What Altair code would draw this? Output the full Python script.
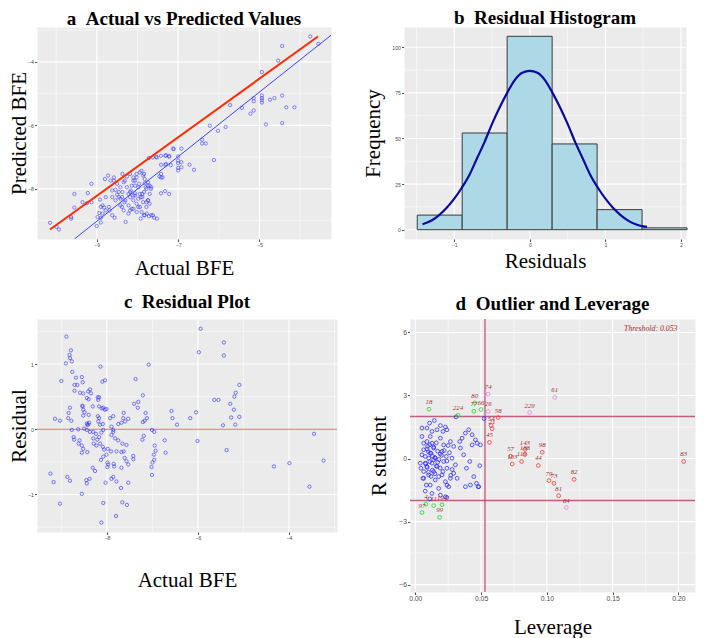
import altair as alt
import pandas as pd

# ---------------- Panel a: Actual vs Predicted ----------------
a_actual = [-3.75, -3.55, -4.44, -4.54, -4.94, -4.94, -4.94, -4.94, -4.94, -5.14, -5.14, -4.74, -4.63, -4.44,
            -4.34, -4.14, -5.22, -5.14, -5.43, -5.72, -4.84, -4.44, -6.22, -5.83, -6.02, -6.41, -6.41, -6.32,
            -6.12, -7.12, -6.92, -7.0, -7.0, -7.0, -7.0, -7.0, -6.92, -6.92, -6.72, -6.61, -7.22, -7.31, -7.42,
            -7.31, -7.42, -7.72, -7.62, -7.52, -7.42, -7.42, -7.32, -7.22, -7.42, -7.52, -7.62, -7.72, -8.29,
            -9.0, -9.93, -9.99, -10.15, -9.63, -9.63, -9.55, -9.55, -9.22, -9.35, -9.24, -9.13, -9.13, -8.92,
            -8.90, -8.90,
            -8.98, -8.94, -8.90, -8.86, -8.82, -8.80, -8.72, -8.78, -8.69, -8.62, -8.56, -8.62, -8.54, -8.58,
            -8.50, -8.46, -8.42, -8.37, -8.37, -8.31, -8.38, -8.32, -8.22, -8.22, -8.16, -8.14, -8.10, -8.06,
            -8.18, -8.10, -8.02, -7.98, -8.06, -8.02, -7.96, -7.92, -7.88, -7.84, -7.80, -7.92, -7.84, -7.77,
            -7.90, -7.84, -7.82, -7.74, -7.70, -7.67, -7.78, -7.74, -7.70, -7.66, -7.59, -7.54, -7.30, -7.22,
            -7.30, -7.18, -7.46, -7.38, -7.11,
            -8.66, -8.58, -8.50, -8.42, -8.34, -8.26, -8.18, -8.10, -8.06, -7.98, -7.94, -7.88, -7.82, -7.78,
            -7.74, -8.10, -8.02, -7.94, -7.86, -8.14, -8.22, -8.34, -8.42, -8.54, -8.62, -8.70, -8.78, -8.86,
            -8.46, -8.38, -8.30, -8.18, -8.06, -7.98, -7.90, -7.82, -7.78, -7.74, -7.70, -7.66, -7.86, -7.94,
            -8.02, -8.10, -8.18, -8.26]
a_pred = [-3.20, -3.43, -3.50, -3.96, -4.32, -5.06, -5.14, -5.21, -5.28, -5.14, -5.24, -5.19, -5.14, -5.06,
          -5.43, -5.43, -5.63, -5.53, -5.45, -5.36, -5.97, -5.93, -6.01, -6.05, -6.17, -6.45, -6.57, -6.57,
          -7.09, -6.73, -6.73, -6.98, -7.11, -7.19, -7.34, -7.42, -7.16, -7.32, -7.24, -7.40, -6.96, -6.96, -6.96,
          -7.24, -7.24, -7.03, -7.01, -7.01, -7.53, -7.64, -8.07, -8.16, -8.14, -8.94, -8.83, -8.86, -9.04,
          -9.17, -9.28, -9.20, -9.07, -8.94, -8.89, -8.59, -8.16, -8.13, -8.42, -8.45, -8.42, -7.84, -8.34,
          -8.91, -9.06,
          -8.89, -8.76, -8.57, -8.52, -8.59, -7.69, -7.58, -8.26, -8.68, -8.83, -8.91, -8.05, -8.03, -7.74,
          -8.18, -8.26, -8.31, -8.10, -7.53, -7.74, -8.57, -8.42, -8.52, -8.16, -8.05, -7.90, -8.21, -8.14,
          -8.68, -8.63, -8.73, -8.57, -7.74, -7.64, -7.84, -8.26, -8.16, -8.10, -7.95, -8.94, -8.83, -8.78,
          -7.43, -7.53, -7.69, -7.79, -7.90, -8.0, -8.42, -8.36, -8.47, -8.83, -8.91, -6.99, -6.94, -6.99,
          -7.22, -7.25, -7.61, -7.64, -6.75,
          -7.74, -7.64, -7.84, -7.95, -7.79, -7.95, -8.10, -7.74, -7.90, -7.95, -8.16, -8.26, -7.82, -8.0,
          -7.90, -8.36, -8.47, -8.57, -8.42, -8.63, -8.78, -8.68, -8.52, -8.36, -8.26, -8.57, -8.68, -8.78,
          -8.10, -8.26, -8.36, -8.26, -8.21, -8.31, -8.73, -8.83, -8.57, -8.36, -8.16, -7.95, -7.58, -7.48,
          -7.53, -7.64, -7.53, -7.61]
a_ideal_x = [-10.15, -3.56]
a_ideal_y = [-9.28, -3.20]
a_fit_x = [-9.55, -3.24]
a_fit_y = [-9.58, -3.16]

# ---------------- Panel b: Residual histogram ----------------
b_bin_start = [-1.49, -0.895, -0.30, 0.295, 0.89, 1.485]
b_bin_end = [-0.895, -0.30, 0.295, 0.89, 1.485, 2.08]
b_count = [8, 53, 106, 47, 11, 1]
b_curve_x = [-1.42, -1.3, -1.2, -1.1, -1.0, -0.9, -0.8, -0.7, -0.6, -0.5, -0.4, -0.3, -0.2, -0.1, 0.0,
             0.1, 0.2, 0.3, 0.4, 0.5, 0.6, 0.7, 0.8, 0.9, 1.0, 1.1, 1.2, 1.3, 1.4, 1.55]
b_curve_y = [3, 5, 8, 12, 17, 23, 30, 39, 48, 58, 67, 75, 82, 86, 87,
             86, 82, 75, 67, 58, 48, 39, 30, 23, 17, 12, 8, 5, 3, 1.5]

# ---------------- Panel c: Residual plot ----------------
c_actual = [-5.94, -5.98, -5.43, -5.43, -7.08, -7.37, -7.21, -7.31, -7.40, -7.32, -7.15, -7.17, -7.21, -7.12,
            -7.01, -6.96, -7.19, -7.22, -6.95, -6.93, -6.97, -6.96, -7.0, -7.02, -7.01, -6.58, -6.56, -6.46,
            -6.73, -6.71, -6.17, -6.04, -6.01, -5.64, -5.55, -5.45, -5.37, -5.29, -5.27, -5.21, -5.20, -5.17,
            -5.09, -5.09, -5.18, -4.33, -3.99, -3.45, -3.55, -3.24,
            -8.89, -8.79, -8.82, -8.81, -8.77, -8.90, -8.14, -8.76, -9.0, -8.68, -8.55, -8.53, -8.65, -8.71,
            -8.10, -8.04, -8.37, -8.41, -8.35, -8.52, -8.59, -8.71, -8.44, -8.40, -8.19, -8.20, -8.17, -8.54,
            -8.53, -8.52, -8.49, -8.52, -8.81, -8.84, -8.85, -8.78, -9.14, -9.03, -8.17, -8.11, -8.08, -8.04,
            -8.01, -8.20, -8.17, -8.19, -8.15, -8.09, -8.40, -8.39, -8.43, -8.31, -7.93, -7.86, -7.63, -7.64,
            -7.53, -7.60, -7.68, -7.75,
            -9.24, -9.17, -9.03, -8.87, -8.81, -8.55, -8.44, -8.45, -8.38, -8.31, -8.26, -8.08, -8.12, -8.03,
            -7.79, -7.69, -7.53, -7.80, -7.66, -7.56, -8.77, -8.63, -8.50, -8.44, -8.73, -8.72, -8.60, -8.62,
            -8.55, -8.52, -8.55, -8.43, -8.44, -8.41, -8.30, -8.24, -8.17, -8.12, -8.08, -8.29, -8.23, -8.15,
            -8.09, -8.06, -7.98, -7.91, -8.01, -8.08, -8.13, -7.99, -7.97, -7.99, -7.85, -7.84, -7.90, -7.86,
            -7.86, -7.90, -7.82, -7.75, -7.66, -7.57, -7.79, -7.68, -7.63, -7.61, -7.57, -7.42, -7.42, -7.53,
            -7.68, -7.90, -7.86, -8.37, -8.30, -8.21]
c_resid = [1.54, 1.18, 1.33, 1.13, 0.99, 0.77, 0.52, 0.42, 0.39, 0.33, 0.25, 0.13, 0.11, 0.17,
           -0.01, -0.04, -0.10, -0.16, -0.25, -0.33, -0.39, -0.47, -0.51, -0.58, -0.70, 0.28, 0.17, 0.07,
           -0.17, -0.36, 0.17, 0.26, -0.18, 0.45, 0.45, 0.06, -0.32, 0.39, 0.18, 0.30, 0.50, 0.56,
           0.68, 0.19, 0.07, -0.57, -0.52, -0.07, -0.88, -0.48,
           1.42, 1.21, 1.14, 1.09, 1.04, 1.01, 0.96, 0.88, 0.74, 0.79, 0.80, 0.72, 0.68, 0.68,
           0.73, 0.75, 0.61, 0.58, 0.55, 0.55, 0.56, 0.59, 0.48, 0.46, 0.45, 0.49, 0.49, 0.36,
           0.35, 0.30, 0.26, 0.21, 0.33, 0.25, 0.17, 0.13, 0.16, 0.13, 0.35, 0.32, 0.33, 0.30,
           0.31, 0.20, 0.17, 0.12, 0.07, 0.08, 0.22, 0.10, 0.07, 0.35, 0.17, 0.20, 0.25, 0.17,
           0.16, 0.12, 0.10, 0.08,
           -0.68, -0.81, -1.14, -0.73, -0.79, -0.99, -0.83, -0.78, -0.76, -0.59, -0.64, -1.13, -1.43, -0.82,
           -0.80, -0.90, -0.82, -1.33, -1.12, -1.16, -0.01, 0.00, 0.01, -0.01, -0.12, -0.16, -0.17, -0.22,
           -0.25, -0.30, -0.36, -0.35, 0.09, 0.07, -0.04, -0.07, -0.12, -0.05, -0.01, -0.22, -0.25, -0.22,
           -0.27, -0.31, -0.30, -0.34, -0.39, -0.42, -0.47, -0.51, -0.54, -0.58, -0.53, -0.57, 0.04, -0.01,
           -0.04, -0.09, -0.14, -0.17, -0.22, -0.24, -0.34, -0.35, -0.34, -0.44, -0.49, -0.41, -0.46, -0.54,
           -0.59, -0.76, -0.73, -0.04, -0.14, -0.16]

# ---------------- Panel d: Outlier and leverage ----------------
d_lev_blue = [0.0109, 0.0145, 0.0191, 0.0229, 0.0089, 0.0127, 0.0165, 0.0211, 0.0241,
              0.0051, 0.0051, 0.0064, 0.0064, 0.0076, 0.0076, 0.0064, 0.0064,
              0.0114, 0.0127, 0.0140, 0.0114, 0.0152, 0.0127, 0.0165, 0.0140, 0.0178, 0.0152, 0.0114,
              0.0191, 0.0216, 0.0203, 0.0236, 0.0216, 0.0241, 0.0203, 0.0229, 0.0254,
              0.0267, 0.0292, 0.0279, 0.0305, 0.0292, 0.0318, 0.0267, 0.0241,
              0.0338, 0.0356, 0.0381, 0.0406, 0.0432, 0.0343, 0.0368, 0.0414, 0.0389, 0.0445, 0.0419,
              0.0381, 0.0483, 0.0495, 0.0490, 0.0457, 0.0470, 0.0432,
              0.0089, 0.0094, 0.0102, 0.0089, 0.0102, 0.0084, 0.0076, 0.0191, 0.0229, 0.0127, 0.0178,
              0.0038, 0.0043, 0.0051, 0.0058, 0.0465, 0.0478,
              0.009, 0.011, 0.012, 0.013, 0.015, 0.016, 0.017, 0.018, 0.010, 0.014, 0.019, 0.020, 0.008,
              0.012, 0.016, 0.021, 0.022, 0.013, 0.011, 0.015, 0.017, 0.019, 0.009, 0.014, 0.010, 0.024,
              0.026, 0.028, 0.025, 0.027, 0.031, 0.0523, 0.011, 0.024]
d_rstu_blue = [1.69, 1.81, 1.57, 1.50, 1.45, 1.29, 1.37, 1.29, 1.37,
               1.45, 1.05, 0.73, 0.42, 0.10, -0.22, -0.62, -0.94,
               1.05, 0.73, 0.50, 0.26, 0.02, -0.22, -0.38, -0.62, -0.86, -1.02, -1.26,
               0.97, 0.65, 0.34, 0.10, -0.14, -0.46, -0.78, -1.10, -1.34,
               0.81, 0.58, 0.02, -0.30, -0.70, -0.94, -0.94, -1.26,
               0.81, 0.97, 1.21, 1.37, 1.13, 0.50, 0.18, -0.14, -0.46, -0.86, -1.26,
               -1.34, -1.34, 0.65, -0.34, 0.89, 0.73, 0.65,
               0.81, 0.58, 0.02, -0.38, -0.78, -1.26, -1.55, -1.74, -1.82, -1.66, -1.42,
               -0.22, -0.46, 0.18, -0.94, -1.18, -1.34,
               0.45, -0.15, 0.25, -0.55, 0.05, -0.35, 0.35, -0.05, -0.65, 0.55, -0.45, 0.15, -0.25,
               -0.85, 0.75, -0.62, 0.38, 0.12, 0.66, -0.72, -0.18, 0.22, -0.42, -0.05, 0.32, -0.12,
               0.28, -0.52, 0.62, -0.8, 1.98, 1.90, -1.92, -1.85]
d_ids = ["18", "224", "80", "77", "66", "26", "74", "61", "229", "58", "54", "21", "45", "57", "103",
         "143", "188", "119", "98", "44", "79", "73", "82", "81", "84", "83", "4", "97", "11", "194", "99"]
d_lev_lab = [0.0104, 0.0325, 0.0452, 0.0445, 0.0500, 0.0554, 0.0554, 0.1060, 0.0869, 0.0630, 0.0577,
             0.0584, 0.0564, 0.0724, 0.0737, 0.0833, 0.0833, 0.0808, 0.0965, 0.0935, 0.1016, 0.1054,
             0.1207, 0.1090, 0.1148, 0.2040, 0.0081, 0.0051, 0.0140, 0.0203, 0.0185]
d_rstu_lab = [2.35, 2.06, 2.65, 2.25, 2.33, 2.24, 3.07, 2.91, 2.19, 1.95, 1.57, 1.42, 0.77, 0.11, -0.26,
              0.43, 0.19, -0.14, 0.30, -0.33, -1.05, -1.18, -0.99, -1.77, -2.33, -0.14, -2.17, -2.57,
              -2.24, -2.20, -2.80]
d_type_lab = ["Outlier", "Outlier", "Outlier", "Outlier", "Outlier", "Both", "Both", "Both", "Both",
              "Leverage", "Leverage", "Leverage", "Leverage", "Leverage", "Leverage", "Leverage",
              "Leverage", "Leverage", "Leverage", "Leverage", "Leverage", "Leverage", "Leverage",
              "Leverage", "Both", "Leverage", "Outlier", "Outlier", "Outlier", "Outlier", "Outlier"]
d_threshold = 0.053
d_rlimits = [-2, 2]

SERIF = "Liberation Serif"
SANS = "Liberation Sans"
GRAY = "#4D4D4D"
SP = "\u2002"


def grid(xmaj, xmin, ymaj, ymin, xsc, ysc, xax, yax):
    layers = []
    for vals, w in ((xmin, 0.5), (xmaj, 1.1)):
        layers.append(alt.Chart(pd.DataFrame({"gx": vals})).mark_rule(color="white", strokeWidth=w)
                      .encode(x=alt.X("gx:Q", scale=xsc, axis=xax)))
    for vals, w in ((ymin, 0.5), (ymaj, 1.1)):
        layers.append(alt.Chart(pd.DataFrame({"gy": vals})).mark_rule(color="white", strokeWidth=w)
                      .encode(y=alt.Y("gy:Q", scale=ysc, axis=yax)))
    return layers


def mkaxis(values, title, pad, fmt="d", size=5.2):
    return alt.Axis(values=values, title=title, titlePadding=pad, format=fmt, labelFontSize=size)


# ---- a ----
xa = alt.Scale(domain=[-10.47, -3.24], nice=False, zero=False)
ya = alt.Scale(domain=[-9.58, -2.9], nice=False, zero=False)
axa = mkaxis([-9, -7, -5], "Actual BFE", 10)
aya = mkaxis([-8, -6, -4], "Predicted BFE", -2)
dfa = pd.DataFrame({"actual": a_actual, "pred": a_pred})
pa = alt.Chart(dfa).mark_point(shape="circle", filled=False, size=11, strokeWidth=0.8,
                               color="#2B2BFF", opacity=0.7, clip=True).encode(
    x=alt.X("actual:Q", scale=xa, axis=axa), y=alt.Y("pred:Q", scale=ya, axis=aya))
la_ideal = alt.Chart(pd.DataFrame({"actual": a_ideal_x, "pred": a_ideal_y})).mark_line(
    color="#FF2A00", strokeWidth=2, clip=True).encode(
    x=alt.X("actual:Q", scale=xa, axis=axa), y=alt.Y("pred:Q", scale=ya, axis=aya))
la_fit = alt.Chart(pd.DataFrame({"actual": a_fit_x, "pred": a_fit_y})).mark_line(
    color="#3344FF", strokeWidth=1, clip=True).encode(
    x=alt.X("actual:Q", scale=xa, axis=axa), y=alt.Y("pred:Q", scale=ya, axis=aya))
chart_a = alt.layer(*grid([-9, -7, -5], [-10, -8, -6, -4], [-8, -6, -4], [-9, -7, -5, -3], xa, ya, axa, aya),
                    pa, la_fit, la_ideal).properties(
    width=294, height=212,
    title=alt.TitleParams("a" + SP + "Actual vs Predicted Values", offset=-3, frame="group"))

# ---- b ----
xb = alt.Scale(domain=[-1.665, 2.066], nice=False, zero=False)
yb = alt.Scale(domain=[-5.1, 111.1], nice=False, zero=False)
axb = mkaxis([-1, 0, 1, 2], "Residuals", 3)
ayb = mkaxis([0, 25, 50, 75, 100], "Frequency", 8)
dfb = pd.DataFrame({"s": b_bin_start, "e": b_bin_end, "n": b_count})
bars = alt.Chart(dfb).mark_bar(fill="#ADD8E6", stroke="#3A3A3A", strokeWidth=1).encode(
    x=alt.X("s:Q", scale=xb, axis=axb), x2="e:Q",
    y=alt.Y("n:Q", scale=yb, axis=ayb), y2=alt.datum(0))
curve = alt.Chart(pd.DataFrame({"s": b_curve_x, "n": b_curve_y})).mark_line(
    color="#0A0A9E", strokeWidth=2.2, interpolate="monotone").encode(
    x=alt.X("s:Q", scale=xb, axis=axb), y=alt.Y("n:Q", scale=yb, axis=ayb))
chart_b = alt.layer(*grid([-1, 0, 1, 2], [-1.5, -0.5, 0.5, 1.5], [0, 25, 50, 75, 100],
                          [12.5, 37.5, 62.5, 87.5], xb, yb, axb, ayb),
                    bars, curve).properties(
    width=282, height=212,
    title=alt.TitleParams("b" + SP + "Residual Histogram", offset=-2, frame="group"))

# ---- c ----
xc = alt.Scale(domain=[-9.535, -2.945], nice=False, zero=False)
yc = alt.Scale(domain=[-1.575, 1.69], nice=False, zero=False)
axc = mkaxis([-8, -6, -4], "Actual BFE", 29)
ayc = mkaxis([-1, 0, 1], "Residual", -2)
dfc = pd.DataFrame({"actual": c_actual, "resid": c_resid})
pc = alt.Chart(dfc).mark_point(shape="circle", filled=False, size=11, strokeWidth=0.9,
                               color="#2B2BFF", opacity=0.7).encode(
    x=alt.X("actual:Q", scale=xc, axis=axc), y=alt.Y("resid:Q", scale=yc, axis=ayc))
hc = alt.Chart(pd.DataFrame({"resid": [0]})).mark_rule(color="#EE6A60", strokeWidth=1).encode(
    y=alt.Y("resid:Q", scale=yc, axis=ayc))
chart_c = alt.layer(*grid([-8, -6, -4], [-9, -7, -5, -3], [-1, 0, 1], [-1.5, -0.5, 0.5, 1.5], xc, yc, axc, ayc),
                    hc, pc).properties(
    width=300, height=213,
    title=alt.TitleParams("c" + SP + "Residual Plot", offset=6, frame="group"))

# ---- d ----
xd = alt.Scale(domain=[-0.004, 0.2126], nice=False, zero=False)
yd = alt.Scale(domain=[-6.35, 6.64], nice=False, zero=False)
axd = mkaxis([0, 0.05, 0.1, 0.15, 0.2], "Leverage", 14, ".2f", 6.8)
ayd = mkaxis([-6, -3, 0, 3, 6], "R student", 9, "d", 6.8)
dfd_blue = pd.DataFrame({"lev": d_lev_blue, "rs": d_rstu_blue})
dfd_lab = pd.DataFrame({"lev": d_lev_lab, "rs": d_rstu_lab, "id": d_ids, "kind": d_type_lab})
color_d = alt.Color("kind:N", legend=None,
                    scale=alt.Scale(domain=["Normal", "Outlier", "Leverage", "Both"],
                                    range=["#2B2BFF", "#22DD22", "#FF3A3A", "#EE82EE"]))
pd_blue = alt.Chart(dfd_blue).mark_point(shape="circle", filled=False, size=14, strokeWidth=1,
                                         color="#2B2BFF", opacity=0.8).encode(
    x=alt.X("lev:Q", scale=xd, axis=axd), y=alt.Y("rs:Q", scale=yd, axis=ayd))
pd_lab = alt.Chart(dfd_lab).mark_point(shape="circle", filled=False, size=14, strokeWidth=1,
                                       opacity=0.85).encode(
    x=alt.X("lev:Q", scale=xd, axis=axd), y=alt.Y("rs:Q", scale=yd, axis=ayd), color=color_d)
td_lab = alt.Chart(dfd_lab).mark_text(font=SERIF, fontStyle="italic", fontSize=6.8, color="#A03030",
                                      dy=-7).encode(
    x=alt.X("lev:Q", scale=xd, axis=axd), y=alt.Y("rs:Q", scale=yd, axis=ayd), text="id:N")
vd = alt.Chart(pd.DataFrame({"lev": [d_threshold]})).mark_rule(color="#B03060", strokeWidth=1.2,
                                                               opacity=0.85).encode(
    x=alt.X("lev:Q", scale=xd, axis=axd))
hd = alt.Chart(pd.DataFrame({"rs": d_rlimits})).mark_rule(color="#B03060", strokeWidth=1.5,
                                                          opacity=0.75).encode(
    y=alt.Y("rs:Q", scale=yd, axis=ayd))
thr = alt.Chart(pd.DataFrame({"lev": [0.179], "rs": [6.16], "t": ["Threshold: " + str(d_threshold)]})).mark_text(
    font=SERIF, fontStyle="italic", fontSize=7.8, color="#A03030").encode(
    x=alt.X("lev:Q", scale=xd, axis=axd), y=alt.Y("rs:Q", scale=yd, axis=ayd), text="t:N")
chart_d = alt.layer(*grid([0, 0.05, 0.1, 0.15, 0.2], [0.025, 0.075, 0.125, 0.175],
                          [-6, -3, 0, 3, 6], [-4.5, -1.5, 1.5, 4.5], xd, yd, axd, ayd),
                    hd, vd, pd_blue, pd_lab, td_lab, thr).properties(
    width=285, height=273,
    title=alt.TitleParams("d" + SP + "Outlier and Leverage", offset=4, frame="group"))

row1 = alt.hconcat(chart_a, chart_b, spacing=29)
row2 = alt.hconcat(chart_c, chart_d, spacing=29)
chart = alt.vconcat(row1, row2, spacing=12).properties(padding=0).configure_view(
    fill="#EBEBEB", stroke="transparent").configure_axis(
    labelFont=SANS, labelColor=GRAY, tickColor=GRAY, tickSize=2.5, labelPadding=1, domain=False,
    grid=False, titleFont=SERIF, titleFontWeight="normal", titleColor="black", titleFontSize=21
).configure_title(font=SERIF, fontSize=19, fontWeight="bold", color="black", anchor="middle")

chart.save("out.html", embed_options={"renderer": "svg", "actions": False})
